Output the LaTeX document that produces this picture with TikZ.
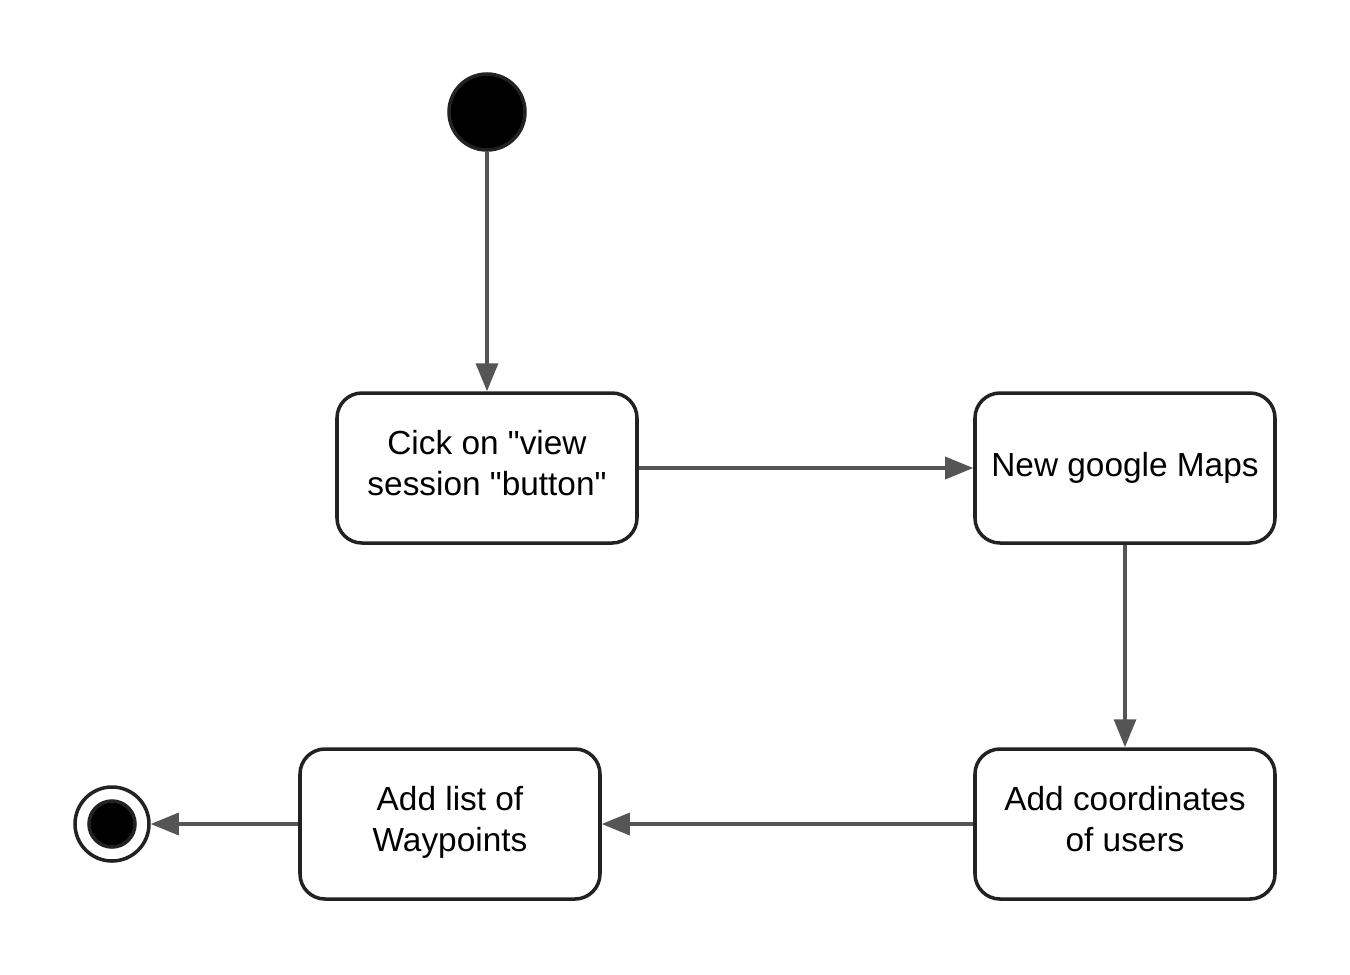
\documentclass[tikz,border=0pt]{standalone}
\usepackage{fontspec}
\setmainfont{Liberation Sans}
\usetikzlibrary{arrows.meta}
\definecolor{bord}{HTML}{222222}
\definecolor{conn}{HTML}{555555}
\tikzset{
  state/.style={draw=bord, line width=1pt, rounded corners=0.25cm, minimum width=3cm, minimum height=1.5cm, align=center, font=\fontsize{9.5pt}{11.6pt}\selectfont, inner sep=0pt},
  conn/.style={draw=conn, line width=0.95pt, -{Triangle[length=0.28cm,width=0.22cm]}, color=conn},
}
\begin{document}
\begin{tikzpicture}
\useasboundingbox (0,0) rectangle (13.5,-9.75);
\node[circle, fill=black, draw=bord, line width=1pt, minimum size=0.76cm, inner sep=0pt] (start) at (4.87,-1.12) {};
\node[state] (b1) at (4.87,-4.68) {Cick on \textquotedbl view\\session \textquotedbl button\textquotedbl\vphantom{g}\\[-8.8pt]};
\node[state] (b2) at (11.25,-4.68) {New google Maps};
\node[state] (b3) at (11.25,-8.24) {Add coordinates\\of users\\[-8.8pt]};
\node[state] (b4) at (4.50,-8.24) {Add list of\\Waypoints\\[-8.8pt]};
\node[circle, draw=bord, line width=1pt, fill=white, minimum size=0.74cm, inner sep=0pt] (end) at (1.12,-8.24) {};
\node[circle, fill=black, draw=bord, line width=1pt, minimum size=0.46cm, inner sep=0pt] (endin) at (end.center) {};
\draw[conn] (start) -- (b1);
\draw[conn] (b1) -- (b2);
\draw[conn] (b2) -- (b3);
\draw[conn] (b3) -- (b4);
\draw[conn] (b4) -- (end);
\end{tikzpicture}
\end{document}
